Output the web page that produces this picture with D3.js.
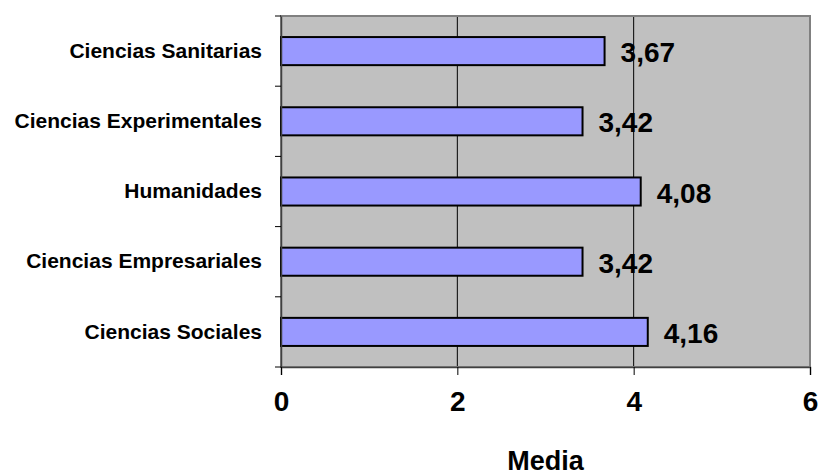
<!DOCTYPE html>
<html>
<head>
<meta charset="utf-8">
<script src="https://cdn.jsdelivr.net/npm/d3@7"></script>
<style>
  html, body { margin: 0; padding: 0; background: #ffffff; }
  svg { display: block; font-family: "Liberation Sans", Arial, sans-serif; font-weight: bold; }
</style>
</head>
<body>
<svg id="chart" width="821" height="476"></svg>
<script>
// Mean score per area of study (top to bottom)
const categories = [
  "Ciencias Sanitarias",
  "Ciencias Experimentales",
  "Humanidades",
  "Ciencias Empresariales",
  "Ciencias Sociales"
];
const values = [3.67, 3.42, 4.08, 3.42, 4.16];
const valueLabels = ["3,67", "3,42", "4,08", "3,42", "4,16"];
const xTicks = [0, 2, 4, 6];
const xTitle = "Media";

const svg = d3.select("#chart");
const plot = { left: 281, right: 810, top: 16, bottom: 367 };

const x = d3.scaleLinear().domain([0, 6]).range([plot.left, plot.right]);
const y = d3.scaleBand()
  .domain(categories)
  .range([plot.top, plot.bottom])
  .paddingInner(0.6)
  .paddingOuter(0.3);

// Plot background
svg.append("rect")
  .attr("x", plot.left).attr("y", plot.top)
  .attr("width", plot.right - plot.left).attr("height", plot.bottom - plot.top)
  .attr("fill", "#c0c0c0");

// Vertical gridlines
svg.append("g")
  .selectAll("line")
  .data(xTicks.filter(d => d > 0 && d < 6))
  .join("line")
  .attr("x1", d => x(d)).attr("x2", d => x(d))
  .attr("y1", plot.top).attr("y2", plot.bottom)
  .attr("stroke", "#000").attr("stroke-width", 1);

// Plot frame
svg.append("rect")
  .attr("x", plot.left).attr("y", plot.top)
  .attr("width", plot.right - plot.left).attr("height", plot.bottom - plot.top)
  .attr("fill", "none")
  .attr("stroke", "#808080").attr("stroke-width", 2);

// Bars
svg.append("g")
  .selectAll("rect")
  .data(categories)
  .join("rect")
  .attr("x", x(0))
  .attr("y", d => y(d))
  .attr("width", (d, i) => x(values[i]) - x(0))
  .attr("height", y.bandwidth())
  .attr("fill", "#9999ff")
  .attr("stroke", "#000")
  .attr("stroke-width", 2);

// Value labels
svg.append("g")
  .selectAll("text")
  .data(categories)
  .join("text")
  .attr("x", (d, i) => x(values[i]) + 16)
  .attr("y", d => y(d) + y.bandwidth() / 2 + 11)
  .attr("font-size", 28)
  .attr("fill", "#000")
  .text((d, i) => valueLabels[i]);

// Category axis
const yAxis = svg.append("g")
  .attr("transform", `translate(${plot.left},0)`)
  .call(d3.axisLeft(y).tickSize(0).tickPadding(19));
yAxis.select(".domain").attr("stroke", "#404040").attr("stroke-width", 1.5);
yAxis.selectAll("text")
  .attr("font-size", 21)
  .attr("font-family", "'Liberation Sans', Arial, sans-serif")
  .attr("font-weight", "bold")
  .attr("fill", "#000")
  .attr("dy", "0.32em");

// Category separator ticks at band boundaries
const bounds = d3.range(categories.length + 1).map(i => plot.top + i * (plot.bottom - plot.top) / categories.length);
svg.append("g")
  .selectAll("line")
  .data(bounds)
  .join("line")
  .attr("x1", plot.left - 6).attr("x2", plot.left)
  .attr("y1", d => d).attr("y2", d => d)
  .attr("stroke", "#000").attr("stroke-width", 1);

// Value axis
const xAxis = svg.append("g")
  .attr("transform", `translate(0,${plot.bottom})`)
  .call(d3.axisBottom(x).tickValues(xTicks).tickSize(8).tickPadding(16).tickFormat(d3.format("d")));
xAxis.select(".domain").attr("stroke", "#404040").attr("stroke-width", 1.5);
xAxis.selectAll(".tick line").attr("stroke", "#000");
xAxis.selectAll("text")
  .attr("font-size", 28)
  .attr("font-family", "'Liberation Sans', Arial, sans-serif")
  .attr("font-weight", "bold")
  .attr("fill", "#000");

// Axis title
svg.append("text")
  .attr("x", (plot.left + plot.right) / 2)
  .attr("y", 470)
  .attr("text-anchor", "middle")
  .attr("font-size", 27)
  .attr("fill", "#000")
  .text(xTitle);
</script>
</body>
</html>
